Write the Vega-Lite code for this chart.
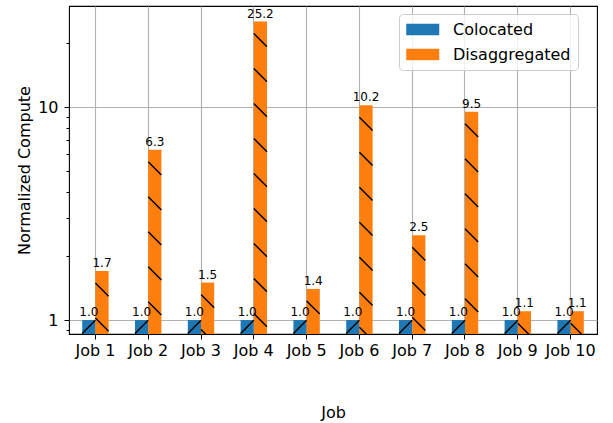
{
  "$schema": "https://vega.github.io/schema/vega-lite/v6.json",
  "width": 528,
  "height": 328,
  "autosize": {"type": "none"},
  "padding": {"left": 69, "top": 6, "right": 16, "bottom": 89},
  "background": "white",
  "config": {
    "font": "DejaVu Sans",
    "view": {"stroke": "#000000", "strokeWidth": 1.1},
    "axis": {"labelFont": "DejaVu Sans", "titleFont": "DejaVu Sans", "labelColor": "#000", "titleColor": "#000", "tickColor": "#000", "domain": false, "titleFontWeight": "normal"}
  },
  "data": {
    "values": [
      {"job": "Job 1", "mode": "Colocated", "value": 1.0},
      {"job": "Job 1", "mode": "Disaggregated", "value": 1.7},
      {"job": "Job 2", "mode": "Colocated", "value": 1.0},
      {"job": "Job 2", "mode": "Disaggregated", "value": 6.3},
      {"job": "Job 3", "mode": "Colocated", "value": 1.0},
      {"job": "Job 3", "mode": "Disaggregated", "value": 1.5},
      {"job": "Job 4", "mode": "Colocated", "value": 1.0},
      {"job": "Job 4", "mode": "Disaggregated", "value": 25.2},
      {"job": "Job 5", "mode": "Colocated", "value": 1.0},
      {"job": "Job 5", "mode": "Disaggregated", "value": 1.4},
      {"job": "Job 6", "mode": "Colocated", "value": 1.0},
      {"job": "Job 6", "mode": "Disaggregated", "value": 10.2},
      {"job": "Job 7", "mode": "Colocated", "value": 1.0},
      {"job": "Job 7", "mode": "Disaggregated", "value": 2.5},
      {"job": "Job 8", "mode": "Colocated", "value": 1.0},
      {"job": "Job 8", "mode": "Disaggregated", "value": 9.5},
      {"job": "Job 9", "mode": "Colocated", "value": 1.0},
      {"job": "Job 9", "mode": "Disaggregated", "value": 1.1},
      {"job": "Job 10", "mode": "Colocated", "value": 1.0},
      {"job": "Job 10", "mode": "Disaggregated", "value": 1.1}
    ]
  },
  "encoding": {
    "x": {
      "field": "job", "type": "nominal", "sort": null,
      "scale": {"paddingInner": 0.5, "paddingOuter": 0.25},
      "axis": {"title": "Job", "labelAngle": 0, "labelFontSize": 16, "titleFontSize": 16, "tickSize": 5, "labelPadding": 3, "titlePadding": 46, "grid": true, "gridColor": "#b0b0b0", "gridWidth": 1.1}
    },
    "xOffset": {"field": "mode", "type": "nominal", "sort": ["Colocated", "Disaggregated"], "scale": {"domain": ["Colocated", "Disaggregated"]}}
  },
  "layer": [
    {
      "mark": {"type": "bar"},
      "encoding": {
        "y": {
          "field": "value", "type": "quantitative",
          "scale": {"type": "log", "domain": [0.86, 29.8], "nice": false, "zero": false},
          "axis": {"title": "Normalized Compute", "values": [1, 10], "format": "d", "labelFontSize": 16, "titleFontSize": 16, "tickSize": 5, "labelPadding": 6, "titlePadding": 5, "grid": true, "gridColor": "#b0b0b0", "gridWidth": 1.1, "orient": "left"}
        },
        "y2": {"datum": 0.86},
        "color": {
          "field": "mode", "type": "nominal",
          "scale": {"domain": ["Colocated", "Disaggregated"], "range": ["#1f77b4", "#ff7f0e"]},
          "legend": {
            "title": null, "orient": "none", "legendX": 330, "legendY": 8,
            "symbolType": "M-1,-0.7L3,-0.7L3,0.7L-1,0.7Z", "symbolSize": 272, "symbolStrokeWidth": 0, "symbolOpacity": 1,
            "labelFontSize": 16, "labelColor": "#000", "labelOffset": 30, "rowPadding": 8,
            "padding": 7, "fillColor": "rgba(255,255,255,0.8)", "strokeColor": "#cccccc", "cornerRadius": 4
          }
        }
      }
    },
    {
      "transform": [{"filter": "datum.mode === 'Colocated'"}],
      "mark": {"type": "point", "filled": false, "clip": true, "size": 4, "stroke": "#000000", "strokeWidth": 1.4, "opacity": 1,
        "shape": "M-6.6,13.5L6.6,0.3M-6.6,48.5L6.6,35.3M-6.6,83.5L6.6,70.3"},
      "encoding": {
        "y": {"field": "value", "type": "quantitative", "axis": null}
      }
    },
    {
      "transform": [{"filter": "datum.mode === 'Disaggregated'"}],
      "mark": {"type": "point", "filled": false, "clip": true, "size": 4, "stroke": "#000000", "strokeWidth": 1.4, "opacity": 1,
        "shape": "M-6.6,12L6.6,25.2M-6.6,47L6.6,60.2M-6.6,82L6.6,95.2M-6.6,117L6.6,130.2M-6.6,152L6.6,165.2M-6.6,187L6.6,200.2M-6.6,222L6.6,235.2M-6.6,257L6.6,270.2M-6.6,292L6.6,305.2M-6.6,327L6.6,340.2"},
      "encoding": {
        "y": {"field": "value", "type": "quantitative", "axis": null}
      }
    },
    {
      "mark": {"type": "text", "baseline": "bottom", "dy": -1, "fontSize": 12, "color": "#000"},
      "encoding": {
        "y": {
          "field": "value", "type": "quantitative",
          "axis": {"title": null, "values": [0.9, 2, 3, 4, 5, 6, 7, 8, 9, 20], "labels": false, "grid": false, "tickSize": 3, "orient": "left"}
        },
        "text": {"field": "value", "type": "quantitative", "format": ".1f"}
      }
    }
  ],
  "resolve": {"axis": {"y": "independent"}}
}
